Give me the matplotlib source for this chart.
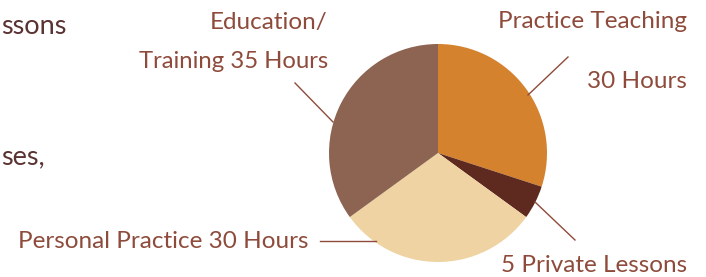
import matplotlib
matplotlib.use("Agg")
import matplotlib.pyplot as plt

labels = ["Practice Teaching 30 Hours", "5 Private Lessons", "Personal Practice 30 Hours", "Education/Training 35 Hours"]
hours = [30, 5, 30, 35]
colors = ["#D5822F", "#5E2A1F", "#EFD3A3", "#8C6451"]

W, H = 706, 277
fig = plt.figure(figsize=(W / 100, H / 100), dpi=100)
ax = fig.add_axes([0, 0, 1, 1])

def py(y):
    return H - y

cx, cy, r = 438, 153, 109
ax.pie(hours, colors=colors, startangle=90, counterclock=False,
       center=(cx, py(cy)), radius=r, wedgeprops=dict(linewidth=0))
ax.set_xlim(0, W)
ax.set_ylim(0, H)
ax.set_aspect("equal")
ax.axis("off")

tc = "#8E4B3B"
fam = ["Lato", "DejaVu Sans"]

def txt(x, y, s, ha, color=tc, fs=17.5):
    ax.text(x, py(y), s, ha=ha, va="center", fontsize=fs, color=color, family=fam)

txt(328, 22, "Education/", "right")
txt(328, 62, "Training 35 Hours", "right", fs=17.2)
txt(687, 22, "Practice Teaching", "right")
txt(687, 82, "30 Hours", "right")
txt(308, 242, "Personal Practice 30 Hours", "right")
txt(687, 265, "5 Private Lessons", "right")

# cropped fragments of surrounding page text
txt(1, 27, "ssons", "left", color="#5A3232", fs=19.5)
txt(1, 157, "ses,", "left", color="#5A3232", fs=19.5)

lc = "#8E4B3B"
lines = [((295, 83), (333, 122)),
         ((568, 57), (528, 95)),
         ((320, 241), (376, 241)),
         ((535, 202), (575, 240))]
for (x0, y0), (x1, y1) in lines:
    ax.plot([x0, x1], [py(y0), py(y1)], color=lc, linewidth=1.0)

fig.savefig("out.png", dpi=100)
